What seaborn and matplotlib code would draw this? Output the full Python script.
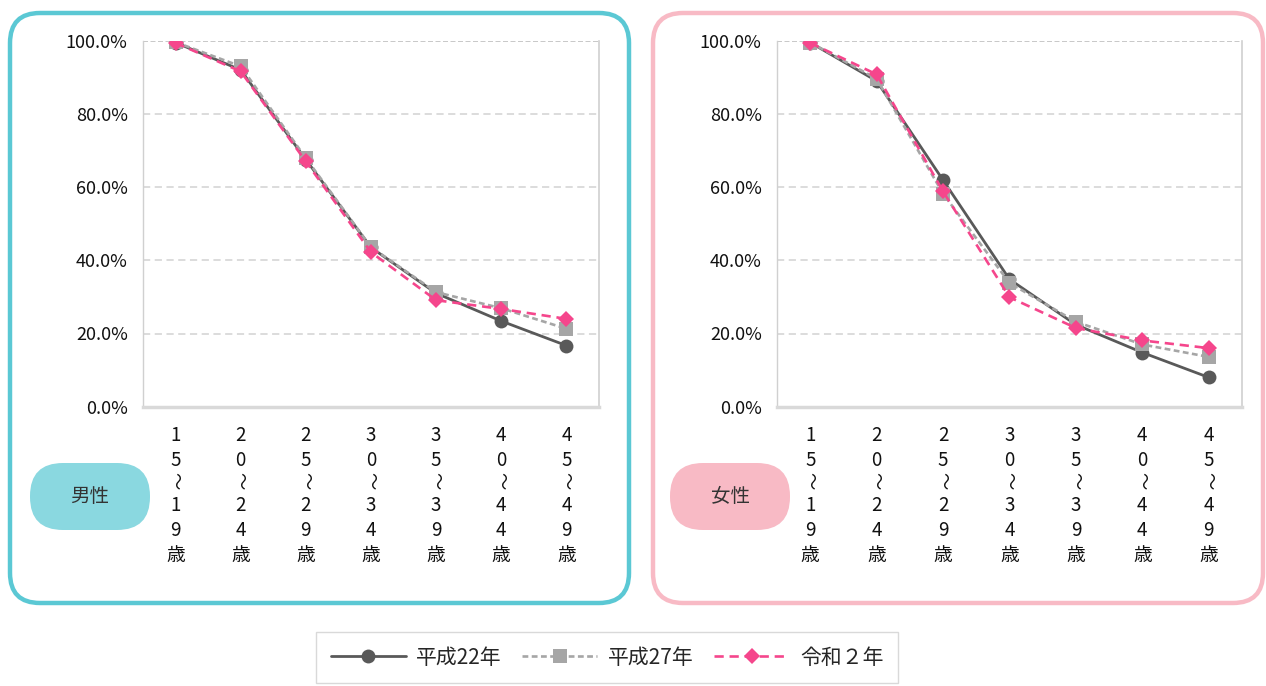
import numpy as np
import pandas as pd
import matplotlib
matplotlib.use("Agg")
import matplotlib.pyplot as plt
import matplotlib.transforms as mtransforms
from matplotlib.patches import FancyBboxPatch
from matplotlib.ticker import FuncFormatter
import seaborn as sns

# Age groups (15-19 ... 45-49), drawn as vertical labels
age_groups = ["15～19歳", "20～24歳", "25～29歳", "30～34歳", "35～39歳", "40～44歳", "45～49歳"]
series_names = ["平成22年", "平成27年", "令和２年"]

# Share (%) by age group — men
male_h22 = [99.5, 92.0, 67.5, 43.5, 31.0, 23.4, 16.7]
male_h27 = [99.6, 93.0, 67.9, 43.6, 31.3, 26.9, 21.3]
male_r2 = [99.4, 91.6, 67.0, 42.2, 29.1, 26.7, 24.0]

# Share (%) by age group — women
female_h22 = [99.5, 89.0, 61.9, 34.8, 22.4, 14.8, 8.0]
female_h27 = [99.5, 89.6, 58.2, 33.8, 23.2, 17.0, 13.6]
female_r2 = [99.4, 90.8, 58.8, 29.9, 21.5, 18.1, 16.0]

y_ticks = [0, 20, 40, 60, 80, 100]

sns.set_theme(style="white")
plt.rcParams["font.family"] = ["Noto Sans CJK JP", "DejaVu Sans"]

W, H = 1266, 686
fig = plt.figure(figsize=(W / 100, H / 100), dpi=100)


def fx(px):
    return px / W


def fy(py):
    return 1 - py / H


# Background layer in pixel units for frames and badges
bg = fig.add_axes([0, 0, 1, 1], zorder=0)
bg.set_xlim(0, W)
bg.set_ylim(H, 0)
bg.axis("off")

bg.add_patch(FancyBboxPatch((10, 13), 619, 590, boxstyle="round,pad=0,rounding_size=30",
                            facecolor="white", edgecolor="#5BC8D4", linewidth=3.2))
bg.add_patch(FancyBboxPatch((653, 13), 610, 590, boxstyle="round,pad=0,rounding_size=30",
                            facecolor="white", edgecolor="#F8BAC5", linewidth=3.2))

for (x0, label, fc) in [(30, "男性", "#8AD8E0"), (670, "女性", "#F8BAC5")]:
    bg.add_patch(FancyBboxPatch((x0, 463), 120, 67, boxstyle="round,pad=0,rounding_size=33",
                                facecolor=fc, edgecolor="none"))
    bg.text(x0 + 60, 497, label, ha="center", va="center", fontsize=14, color="#333333")

styles = {
    "平成22年": dict(color="#595959", marker="o", markersize=10, linestyle="-", linewidth=2.0, zorder=3),
    "平成27年": dict(color="#A6A6A6", marker="s", markersize=10, linestyle=(0, (2.2, 1.3)), linewidth=1.9, zorder=4),
    "令和２年": dict(color="#F5468C", marker="D", markersize=8, linestyle=(0, (3.5, 2.2)), linewidth=1.9, zorder=5),
}

LABEL_SIZE = 13.5
LINE_SPACING = 1.26


def split_age(s):
    start, end = s.split("～")
    return "\n".join(start), "\n".join(end)


def draw_panel(ax, values):
    x = np.arange(len(age_groups))
    for name, vals in zip(series_names, values):
        df = pd.DataFrame({"x": x, "y": vals})
        st = styles[name]
        sns.lineplot(data=df, x="x", y="y", ax=ax, label=name, legend=False,
                     color=st["color"], marker=st["marker"], markersize=st["markersize"],
                     markeredgewidth=0, linestyle=st["linestyle"], linewidth=st["linewidth"],
                     zorder=st["zorder"])
    ax.set_facecolor("none")
    ax.set_xlim(-0.5, len(age_groups) - 0.5)
    ax.set_ylim(0, 100)
    ax.set_yticks(y_ticks)
    ax.yaxis.set_major_formatter(FuncFormatter(lambda v, p: f"{v:.1f}%"))

    # vertical age labels: start age as tick label, then wave dash, then end age + 歳
    parts = [split_age(a) for a in age_groups]
    ax.set_xticks(x)
    ax.set_xticklabels([p[0] for p in parts])
    for lbl in ax.get_xticklabels():
        lbl.set_linespacing(LINE_SPACING)
        lbl.set_verticalalignment("top")
    ax.tick_params(axis="x", length=0, pad=13, labelsize=LABEL_SIZE, colors="#111111")
    ax.tick_params(axis="y", length=0, pad=11, labelsize=13, colors="#111111")
    blend = mtransforms.blended_transform_factory(ax.transData, bg.transData)
    for i, (_, end) in zip(x, parts):
        ax.text(i, 481, "～", transform=blend, rotation=-90, ha="center", va="center",
                fontsize=LABEL_SIZE - 1, color="#111111", clip_on=False)
        ax.text(i, 495, end, transform=blend, ha="center", va="top",
                fontsize=LABEL_SIZE, linespacing=LINE_SPACING, color="#111111", clip_on=False)

    ax.set_xlabel("")
    ax.set_ylabel("")
    for yv in [20, 40, 60, 80]:
        ax.axhline(yv, color="#D9D9D9", linewidth=1.3, linestyle=(0, (4, 2.5)), zorder=1)
    ax.axhline(100, color="#BFBFBF", linewidth=1.2, linestyle=(0, (3, 1.5)), zorder=1)
    ax.spines["top"].set_visible(False)
    ax.spines["left"].set_color("#D0D0D0")
    ax.spines["left"].set_linewidth(1.0)
    ax.spines["right"].set_color("#D0D0D0")
    ax.spines["right"].set_linewidth(1.2)
    ax.spines["bottom"].set_color("#D9D9D9")
    ax.spines["bottom"].set_linewidth(2.5)
    ax.grid(False)


ax1 = fig.add_axes([fx(143), fy(406.7), fx(456), (406.7 - 40.7) / H], zorder=2)
ax2 = fig.add_axes([fx(777), fy(406.7), fx(465), (406.7 - 40.7) / H], zorder=2)
draw_panel(ax1, [male_h22, male_h27, male_r2])
draw_panel(ax2, [female_h22, female_h27, female_r2])

handles, labels = ax1.get_legend_handles_labels()
leg = fig.legend(handles, labels, loc="upper center", bbox_to_anchor=(fx(607), fy(632)),
                 ncol=3, frameon=True, fontsize=15, handlelength=3.6, handletextpad=0.5,
                 columnspacing=1.0, borderpad=0.7, borderaxespad=0, fancybox=False, numpoints=1)
leg.get_frame().set_edgecolor("#D0D0D0")
leg.get_frame().set_linewidth(1.0)

fig.savefig("out.png", dpi=100)
